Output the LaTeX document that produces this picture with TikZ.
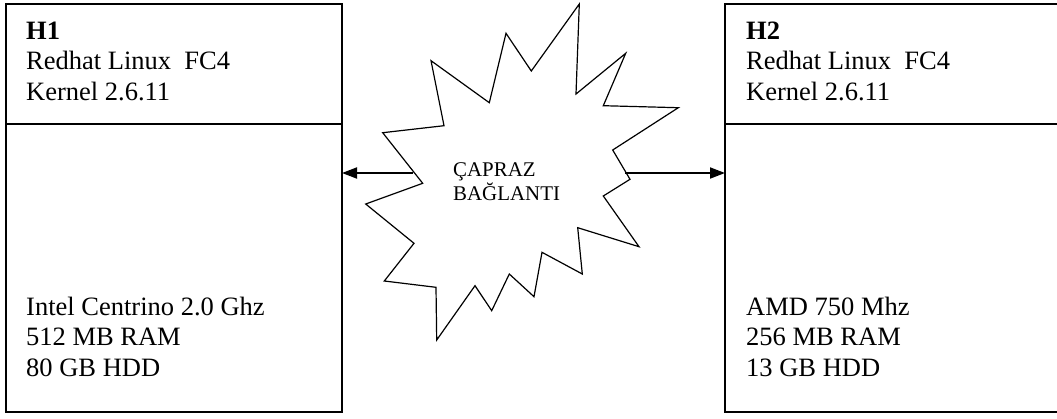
\documentclass[tikz,border=0pt]{standalone}
\usepackage{fontspec}
\setmainfont{Liberation Serif}
\usetikzlibrary{arrows.meta}
\begin{document}
\begin{tikzpicture}[x=1pt,y=-1pt,
  box/.style={draw, line width=1.8pt, rectangle, outer sep=0pt, inner sep=0pt, anchor=north west},
  info/.style={anchor=base west, align=left, inner sep=0pt,
    font=\fontsize{26.5}{30.5}\selectfont},
  burst/.style={line width=1.2pt, line join=miter},
  conn/.style={line width=1.8pt, -{Triangle[length=15pt,width=11pt]}},
  tag/.style={anchor=base west, align=left, inner sep=0pt,
    font=\fontsize{20.9}{24}\selectfont}]
\useasboundingbox (0,0) rectangle (1057,418);

% host H1 (multi-line blocks are placed by the baseline of their last line)
\node[box, minimum width=336pt, minimum height=120pt] (h1top) at (6,4) {};
\node[box, minimum width=336pt, minimum height=288pt] (h1bot) at (h1top.south west) {};
\node[info] (h1os) at (26,100) {\textbf{H1}\\Redhat Linux\ \ FC4\\Kernel 2.6.11};
\node[info] (h1hw) at (26,376) {Intel Centrino 2.0 Ghz\\512 MB RAM\\80 GB HDD};

% host H2
\node[box, minimum width=340pt, minimum height=120pt] (h2top) at (725,4) {};
\node[box, minimum width=340pt, minimum height=288pt] (h2bot) at (h2top.south west) {};
\node[info] (h2os) at (746,100) {\textbf{H2}\\Redhat Linux\ \ FC4\\Kernel 2.6.11};
\node[info] (h2hw) at (746,376) {AMD 750 Mhz\\256 MB RAM\\13 GB HDD};

% crossover link
\draw[burst] (579.3,4) -- (576,94) -- (625.7,53.3) -- (603.3,105.7) -- (678.3,107.7)
  -- (612.7,150) -- (630,179.3) -- (603.3,196) -- (639,246.7) -- (577.7,227.7)
  -- (582.3,274) -- (542,252.3) -- (534,296.7) -- (509.3,274) -- (491.7,310.7)
  -- (475,285.7) -- (436.7,340) -- (436,287.3) -- (384.3,281) -- (414,243.3)
  -- (365.7,204) -- (422.7,183.3) -- (382.7,132.7) -- (444,125.7) -- (431,60.7)
  -- (489.3,102.7) -- (506,33.3) -- (531.3,71) -- cycle;
\node[tag] (cross) at (453,200) {ÇAPRAZ\\BAĞLANTI};

\coordinate (cl) at (413,173);
\coordinate (cr) at (625,173);
\draw[conn] (cl) -- (cl -| h1bot.east);
\draw[conn] (cr) -- (cr -| h2bot.west);
\end{tikzpicture}
\end{document}
